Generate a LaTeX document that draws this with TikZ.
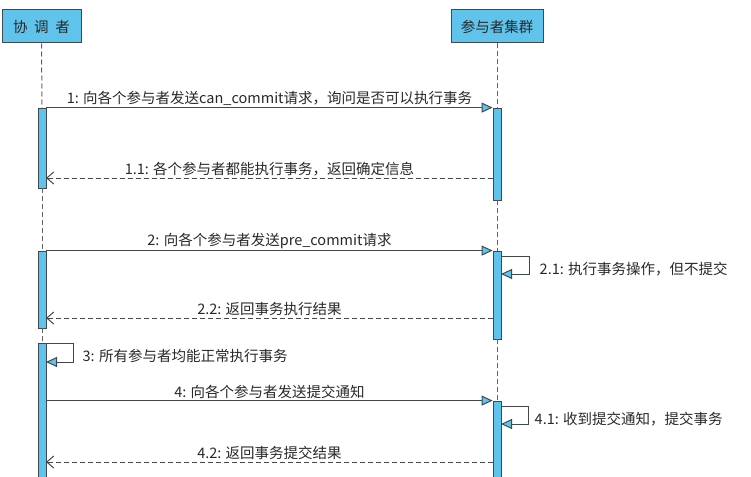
\documentclass[tikz,border=0pt]{standalone}
\usepackage{fontspec}
\setmainfont{Noto Sans CJK SC}
\usetikzlibrary{arrows.meta}
\definecolor{lifeblue}{RGB}{95,195,235}
\definecolor{edge}{RGB}{65,72,80}
\definecolor{ink}{RGB}{40,40,40}

\begin{document}
\begin{tikzpicture}[x=1pt,y=-1pt,
  header/.style={draw=edge, fill=lifeblue, line width=1pt, minimum height=33pt,
    inner sep=0pt, font=\fontsize{14.5}{15}\selectfont, text=ink},
  actbar/.style={draw=edge, fill=lifeblue, line width=0.8pt, minimum width=8pt, inner sep=0pt},
  lifeline/.style={draw=edge!85, dash pattern=on 5pt off 3pt, line width=1pt},
  call/.style={draw=edge, line width=1pt,
    -{Triangle[length=11pt,width=10pt,fill=lifeblue]}},
  reply/.style={draw=edge, line width=1pt, dash pattern=on 5pt off 3pt,
    -{Straight Barb[length=7pt,width=12pt]}},
  msg/.style={font=\fontsize{14.5}{15}\selectfont, text=ink, inner sep=1.5pt}
]
\useasboundingbox (0,0) rectangle (751,476);

% participants
\node[header, minimum width=79pt] (hl) at (41.5,26.5) {协\hspace{0.45em}调\hspace{0.45em}者};
\node[header, minimum width=92pt] (hr) at (497,26.5) {参与者集群};

% activation bars
\node[actbar, minimum height=80pt]  (lb1) at (42,148) {};
\node[actbar, minimum height=77pt]  (lb2) at (42,289.5) {};
\node[actbar, minimum height=139pt] (lb3) at (42,412.5) {};
\node[actbar, minimum height=92pt]  (rb1) at (497,154) {};
\node[actbar, minimum height=88pt]  (rb2) at (497,295) {};
\node[actbar, minimum height=81pt]  (rb4) at (497,441.5) {};

% lifelines between bars
\draw[lifeline] (hl.south) -- (lb1.north);
\draw[lifeline] (lb1.south) -- (lb2.north);
\draw[lifeline] (lb2.south) -- (lb3.north);
\draw[lifeline] (hr.south) -- (rb1.north);
\draw[lifeline] (rb1.south) -- (rb2.north);
\draw[lifeline] (rb2.south) -- (rb4.north);

% message end points
\coordinate (r11) at (493,178);  \coordinate (l11) at (46,178);
\coordinate (r22) at (493,318);  \coordinate (l22) at (46,318);
\coordinate (r42) at (493,462);  \coordinate (l42) at (46,462);
\coordinate (s21a) at (501,256); \coordinate (s21b) at (501,274);
\coordinate (s3a) at (46,343);   \coordinate (s3b) at (46,362);
\coordinate (s41a) at (501,406); \coordinate (s41b) at (501,424);

% messages
\draw[call] (lb1.north east) -- node[msg, above] {1: 向各个参与者发送can\_commit请求，询问是否可以执行事务} (rb1.north west);
\draw[reply] (r11) -- node[msg, above] {1.1: 各个参与者都能执行事务，返回确定信息} (l11);
\draw[call] (lb2.north east) -- node[msg, above] {2: 向各个参与者发送pre\_commit请求} (rb2.north west);
\draw[call] (s21a) -- ++(28,0) |- (s21b);
\node[msg, anchor=west] (t21) at (538,269) {2.1: 执行事务操作，但不提交};
\draw[reply] (r22) -- node[msg, above] {2.2: 返回事务执行结果} (l22);
\draw[call] (s3a) -- ++(27,0) |- (s3b);
\node[msg, anchor=west] (t3) at (81,356) {3: 所有参与者均能正常执行事务};
\draw[call] (lb3.east |- rb4.north) -- node[msg, above] {4: 向各个参与者发送提交通知} (rb4.north west);
\draw[call] (s41a) -- ++(27,0) |- (s41b);
\node[msg, anchor=west] (t41) at (533,419) {4.1: 收到提交通知，提交事务};
\draw[reply] (r42) -- node[msg, above] {4.2: 返回事务提交结果} (l42);
\end{tikzpicture}
\end{document}
